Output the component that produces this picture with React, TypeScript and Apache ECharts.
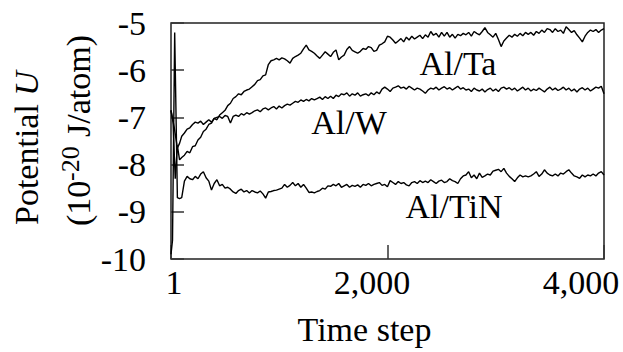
import React, { useEffect, useRef } from "react";
import * as echarts from "echarts";

const FONT = "'Liberation Serif', 'Times New Roman', serif";

const xTickValues = [1, 2000, 4000];
const xTickLabels = ["1", "2,000", "4,000"];
const yMin = -10;
const yMax = -5;

// sampling positions (time steps): a few early steps, then every 25 steps from 100 to 4000
const bulkSteps: number[] = Array.from({ length: 157 }, (_, i) => 100 + i * 25);

const taEarlySteps = [1, 20, 40, 60, 80];
const taEarlyValues = [-6.85, -7.1, -8.3, -7.6, -7.9];
const taValues = [
  -7.85, -7.8, -7.72, -7.75, -7.62, -7.6, -7.48, -7.42,
  -7.3, -7.25, -7.15, -7.12, -7.02, -7.05, -6.95, -6.9,
  -6.85, -6.75, -6.7, -6.6, -6.56, -6.5, -6.52, -6.45,
  -6.42, -6.4, -6.35, -6.3, -6.22, -6.2, -6.12, -6.1,
  -5.88, -5.8, -5.78, -5.75, -5.78, -5.74, -5.76, -5.8,
  -5.85, -5.75, -5.71, -5.68, -5.64, -5.55, -5.47, -5.57,
  -5.6, -5.64, -5.7, -5.75, -5.68, -5.61, -5.66, -5.71,
  -5.62, -5.57, -5.78, -5.72, -5.68, -5.56, -5.5, -5.58,
  -5.61, -5.64, -5.6, -5.54, -5.56, -5.5, -5.52, -5.6,
  -5.58, -5.47, -5.44, -5.4, -5.28, -5.3, -5.36, -5.43,
  -5.38, -5.33, -5.4, -5.3, -5.36, -5.28, -5.34, -5.3,
  -5.26, -5.33, -5.25, -5.3, -5.18, -5.26, -5.22, -5.3,
  -5.2, -5.28, -5.2, -5.3, -5.24, -5.32, -5.24, -5.27,
  -5.22, -5.25, -5.2, -5.28, -5.18, -5.22, -5.25, -5.18,
  -5.1, -5.2, -5.25, -5.3, -5.22, -5.35, -5.5, -5.38,
  -5.32, -5.26, -5.3, -5.24, -5.28, -5.22, -5.27, -5.2,
  -5.24, -5.2, -5.26, -5.18, -5.22, -5.15, -5.2, -5.12,
  -5.14, -5.2, -5.12, -5.18, -5.15, -5.22, -5.08, -5.14,
  -5.2, -5.16, -5.25, -5.32, -5.4, -5.28, -5.2, -5.15,
  -5.18, -5.14, -5.2, -5.15, -5.12,
];

const wEarlySteps = [1, 30, 60, 80];
const wEarlyValues = [-6.85, -7.2, -7.65, -7.55];
const wValues = [
  -7.4, -7.33, -7.25, -7.22, -7.15, -7.1, -7.12, -7.08,
  -7.15, -7.1, -7.05, -7.1, -7.02, -7.0, -6.98, -7.02,
  -6.96, -6.98, -7.12, -6.98, -6.95, -6.98, -6.92, -6.95,
  -6.9, -6.93, -6.9, -6.86, -6.84, -6.88, -6.82, -6.8,
  -6.84, -6.8, -6.77, -6.82, -6.76, -6.8, -6.75, -6.72,
  -6.74, -6.7, -6.66, -6.68, -6.63, -6.66, -6.62, -6.65,
  -6.6, -6.63, -6.6, -6.57, -6.62, -6.56, -6.6, -6.55,
  -6.6, -6.53, -6.56, -6.5, -6.52, -6.48, -6.55, -6.5,
  -6.53, -6.48, -6.55, -6.52, -6.5, -6.54, -6.48, -6.52,
  -6.46, -6.5, -6.4, -6.36, -6.4, -6.45, -6.38, -6.36,
  -6.33, -6.38, -6.36, -6.4, -6.34, -6.38, -6.42, -6.38,
  -6.4, -6.44, -6.49, -6.42, -6.38, -6.4, -6.36, -6.42,
  -6.38, -6.35, -6.4, -6.37, -6.42, -6.38, -6.34, -6.4,
  -6.37, -6.42, -6.4, -6.45, -6.38, -6.42, -6.44, -6.4,
  -6.46, -6.41, -6.38, -6.44, -6.4, -6.45, -6.38, -6.36,
  -6.4, -6.37, -6.42, -6.38, -6.44, -6.4, -6.36, -6.42,
  -6.38, -6.44, -6.4, -6.43, -6.38, -6.42, -6.46, -6.4,
  -6.36, -6.42, -6.38, -6.43, -6.4, -6.36, -6.42, -6.38,
  -6.44, -6.4, -6.46, -6.4, -6.37, -6.42, -6.38, -6.44,
  -6.4, -6.36, -6.38, -6.34, -6.5,
];

const tinEarlySteps = [1, 15, 35, 60, 80];
const tinEarlyValues = [-9.9, -9.6, -5.2, -8.7, -8.72];
const tinValues = [
  -8.7, -8.35, -8.25, -8.3, -8.32, -8.25, -8.3, -8.2,
  -8.15, -8.28, -8.35, -8.54, -8.4, -8.32, -8.45, -8.42,
  -8.5, -8.48, -8.52, -8.58, -8.61, -8.55, -8.52, -8.58,
  -8.55, -8.6, -8.55, -8.58, -8.6, -8.56, -8.62, -8.71,
  -8.58, -8.57, -8.55, -8.54, -8.52, -8.5, -8.42, -8.48,
  -8.44, -8.38, -8.45, -8.4, -8.48, -8.42, -8.5, -8.59,
  -8.58, -8.6, -8.57, -8.55, -8.5, -8.52, -8.45, -8.46,
  -8.42, -8.45, -8.4, -8.48, -8.45, -8.42, -8.48, -8.44,
  -8.46, -8.43, -8.48, -8.42, -8.44, -8.4, -8.45, -8.42,
  -8.4, -8.38, -8.44, -8.42, -8.47, -8.34, -8.38, -8.42,
  -8.36, -8.4, -8.38, -8.43, -8.45, -8.38, -8.36, -8.4,
  -8.34, -8.38, -8.35, -8.38, -8.32, -8.36, -8.4, -8.35,
  -8.33, -8.38, -8.36, -8.3, -8.34, -8.36, -8.4, -8.3,
  -8.24, -8.22, -8.15, -8.28, -8.22, -8.3, -8.18, -8.27,
  -8.24, -8.2, -8.22, -8.14, -8.12, -8.1, -8.15, -8.08,
  -8.18, -8.25, -8.3, -8.36, -8.28, -8.22, -8.26, -8.24,
  -8.26, -8.24, -8.2, -8.15, -8.25, -8.2, -8.11, -8.18,
  -8.22, -8.24, -8.2, -8.24, -8.18, -8.2, -8.15, -8.11,
  -8.18, -8.24, -8.26, -8.29, -8.22, -8.26, -8.22, -8.24,
  -8.2, -8.24, -8.18, -8.15, -8.22,
];

const seriesNames = ["Al/Ta", "Al/W", "Al/TiN"];

function pairs(earlySteps: number[], earlyValues: number[], values: number[]) {
  const out: number[][] = earlySteps.map((s, i) => [s, earlyValues[i]]);
  bulkSteps.forEach((s, i) => {
    if (values[i] !== undefined) out.push([s, values[i]]);
  });
  return out;
}

export default function App() {
  const ref = useRef<HTMLDivElement>(null);
  useEffect(() => {
    if (!ref.current) return;
    const chart = echarts.init(ref.current, undefined, { renderer: "svg" });
    const lineStyle = { color: "#000", width: 1.4 };
    const mkSeries = (name: string, data: number[][]) => ({
      name,
      type: "line",
      data,
      showSymbol: false,
      symbol: "none",
      lineStyle,
      silent: true,
    });
    const textBase = { fontFamily: FONT, fill: "#000" };
    chart.setOption({
      animation: false,
      grid: {
        left: 171,
        right: 19,
        top: 23,
        bottom: 93,
        show: true,
        borderColor: "#222",
        borderWidth: 1.5,
      },
      xAxis: {
        type: "value",
        min: 1,
        max: 4000,
        axisLine: { show: false },
        splitLine: { show: false },
        axisTick: {
          show: true,
          inside: true,
          length: 14,
          customValues: xTickValues,
          lineStyle: { color: "#333", width: 1.5 },
        },
        axisLabel: {
          customValues: xTickValues,
          margin: 6,
          color: "#000",
          fontFamily: FONT,
          fontSize: 34,
          formatter: (v: number) => {
            const i = xTickValues.indexOf(v);
            return `{l${i}|${xTickLabels[i]}}`;
          },
          rich: {
            l0: { fontFamily: FONT, fontSize: 34, color: "#000", padding: [0, 0, 0, 6] },
            l1: { fontFamily: FONT, fontSize: 34, color: "#000", padding: [0, 31, 0, 0] },
            l2: { fontFamily: FONT, fontSize: 34, color: "#000", padding: [0, 46, 0, 0] },
          },
        },
      },
      yAxis: {
        type: "value",
        min: yMin,
        max: yMax,
        interval: 1,
        axisLine: { show: false },
        splitLine: { show: false },
        axisTick: {
          show: true,
          inside: true,
          length: 13,
          lineStyle: { color: "#333", width: 1.5 },
        },
        axisLabel: {
          margin: 25,
          color: "#000",
          fontFamily: FONT,
          fontSize: 34,
        },
      },
      series: [
        mkSeries(seriesNames[0], pairs(taEarlySteps, taEarlyValues, taValues)),
        mkSeries(seriesNames[1], pairs(wEarlySteps, wEarlyValues, wValues)),
        mkSeries(seriesNames[2], pairs(tinEarlySteps, tinEarlyValues, tinValues)),
      ],
      graphic: [
        { type: "text", x: 458, y: 63, style: { ...textBase, text: seriesNames[0], fontSize: 34, align: "center", verticalAlign: "middle" } },
        { type: "text", x: 349, y: 122, style: { ...textBase, text: seriesNames[1], fontSize: 34, align: "center", verticalAlign: "middle" } },
        { type: "text", x: 454, y: 206, style: { ...textBase, text: seriesNames[2], fontSize: 34, align: "center", verticalAlign: "middle" } },
        { type: "text", x: 364.5, y: 329, style: { ...textBase, text: "Time step", fontSize: 34, align: "center", verticalAlign: "middle" } },
        {
          type: "text", x: 26, y: 225, rotation: Math.PI / 2,
          style: { ...textBase, text: "{n|Potential }{i|U}", fontSize: 34, align: "left", verticalAlign: "middle",
            rich: { n: { fontFamily: FONT, fontSize: 34, fill: "#000" }, i: { fontFamily: FONT, fontSize: 34, fontStyle: "italic", fill: "#000" } } },
        },
        { type: "text", x: 78, y: 226, rotation: Math.PI / 2, style: { ...textBase, text: "(10", fontSize: 34, align: "left", verticalAlign: "middle" } },
        { type: "text", x: 70, y: 181, rotation: Math.PI / 2, style: { ...textBase, text: "-20", fontSize: 26, align: "left", verticalAlign: "middle" } },
        { type: "text", x: 78, y: 137, rotation: Math.PI / 2, style: { ...textBase, text: "J/atom)", fontSize: 34, align: "left", verticalAlign: "middle" } },
      ],
    });
    return () => chart.dispose();
  }, []);
  return (
    <div
      ref={ref}
      style={{ position: "fixed", left: 0, top: 0, width: 623, height: 352, background: "#fff" }}
    />
  );
}
